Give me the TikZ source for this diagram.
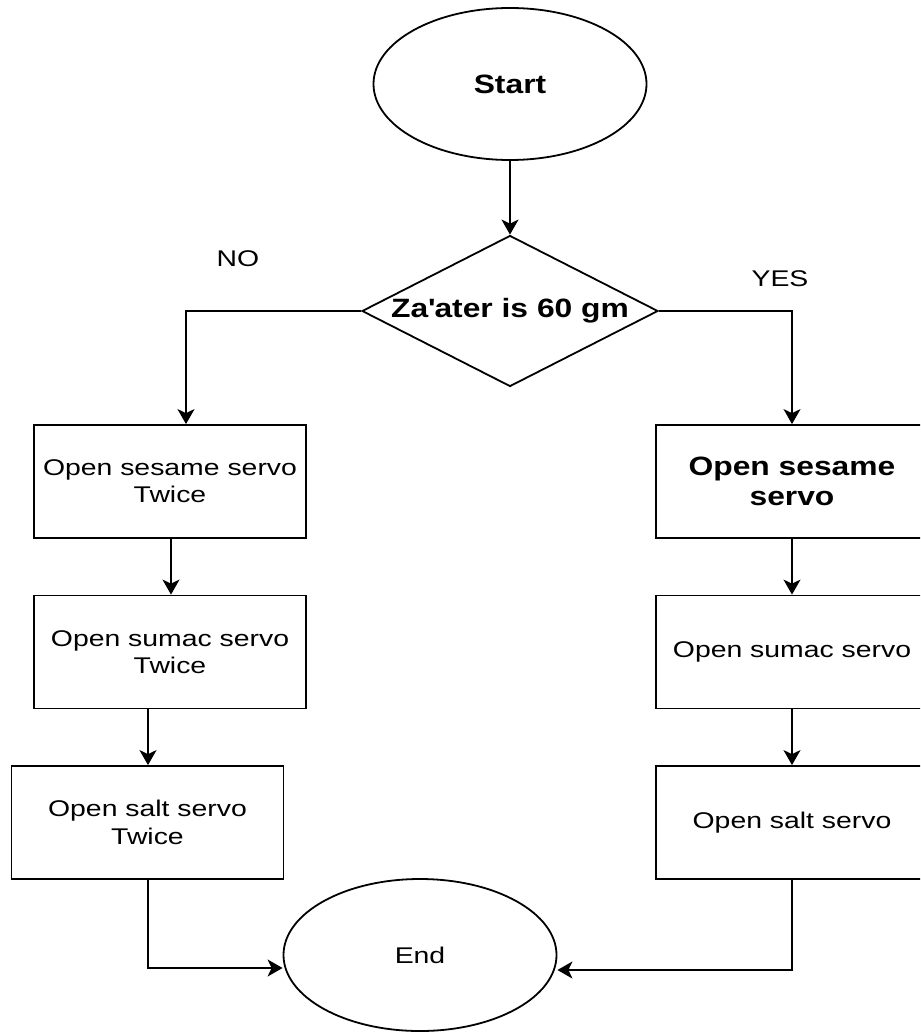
\documentclass[tikz,border=0pt]{standalone}
\usepackage{fontspec}
\setmainfont{Liberation Sans}[FakeStretch=1.25,BoldFeatures={FakeStretch=1.2}]
\usetikzlibrary{shapes.geometric,arrows.meta}

\newcommand{\regtext}{\fontsize{22.7pt}{27.3pt}\selectfont}
\newcommand{\boldtext}{\fontsize{26.5pt}{30pt}\selectfont\bfseries}

\begin{document}
\begin{tikzpicture}[x=1pt,y=-1pt,
  line width=1.8pt,
  terminal/.style={ellipse,draw,minimum width=273pt,minimum height=152pt,inner sep=0pt,font=\regtext},
  decision/.style={diamond,aspect=2,draw,minimum width=296pt,minimum height=151pt,inner sep=0pt,font=\boldtext},
  action/.style={rectangle,draw,minimum width=272pt,minimum height=113pt,inner sep=0pt,align=center,font=\regtext},
  flow/.style={-{Stealth[length=15pt,width=17pt,inset=4pt]}},
  branch/.style={font=\regtext}]
\useasboundingbox (0,0) rectangle (920,1032);
\clip (0,0) rectangle (920,1032);

% start, decision and end
\node[terminal,font=\boldtext] (start) at (510,84) {Start};
\node[decision] (check) at (510,311) {Za\textquotesingle ater is 60 gm};
\node[terminal] (finish) at (420,955) {End};

% branch labels
\node[branch] (no) at (238,259) {NO};
\node[branch] (yes) at (780,279) {YES};

% "NO" column
\node[action] (l1) at (170,481.5) {Open sesame servo\\Twice};
\node[action] (l2) at (170,652) {Open sumac servo\\Twice};
\node[action] (l3) at (147.5,822.5) {Open salt servo\\Twice};

% "YES" column
\node[action,font=\boldtext] (r1) at (792,481.5) {Open sesame\\servo};
\node[action] (r2) at (792,652) {Open sumac servo};
\node[action] (r3) at (792,822.5) {Open salt servo};

% helper points for the elbow connectors
\coordinate (lturn) at (186,311);
\coordinate (rturn) at (792,311);
\coordinate (lx1) at (171,0);
\coordinate (lx2) at (148,0);
\coordinate (lbot) at (148,968);
\coordinate (rbot) at (792,970);

% connectors
\draw[flow] (start) -- (check);
\draw[flow] (check.west) -- (lturn) -- (lturn |- l1.north);
\draw[flow] (check.east) -- (rturn) -- (r1.north);
\draw[flow] (l1.south -| lx1) -- (l2.north -| lx1);
\draw[flow] (l2.south -| lx2) -- (l3.north -| lx2);
\draw[flow] (r1) -- (r2);
\draw[flow] (r2) -- (r3);
\draw[flow] (l3.south -| lbot) -- (lbot) -- (finish.west |- lbot);
\draw[flow] (r3.south) -- (rbot) -- (finish.east |- rbot);
\end{tikzpicture}
\end{document}
